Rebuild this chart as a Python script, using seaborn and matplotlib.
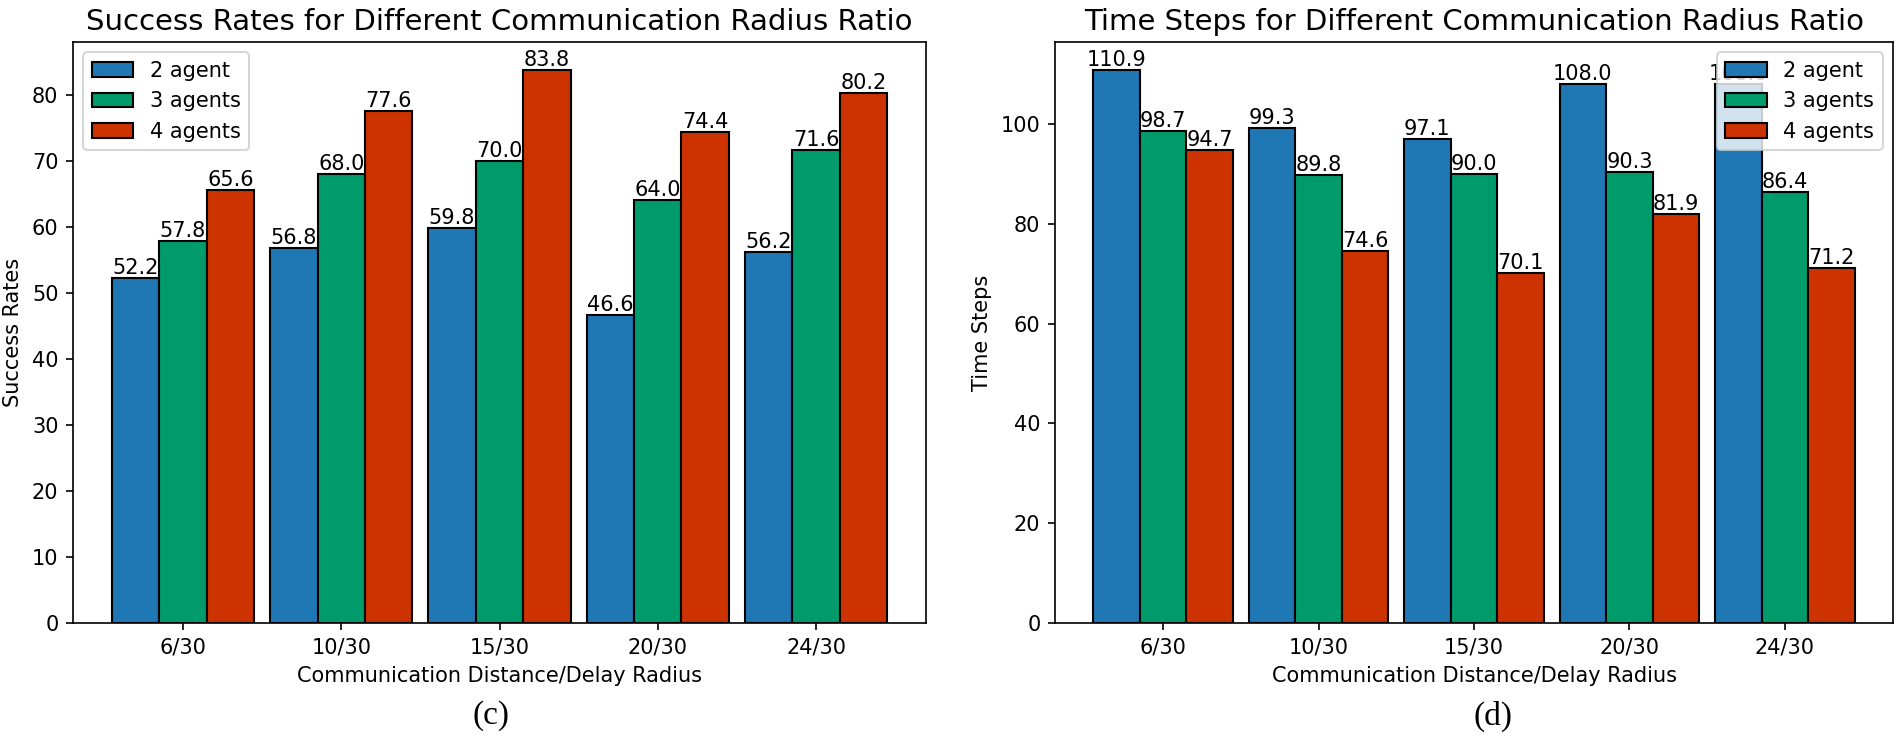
import matplotlib
matplotlib.use("Agg")
import matplotlib.pyplot as plt
import seaborn as sns
import pandas as pd

# data
ratios = ["6/30", "10/30", "15/30", "20/30", "24/30"]
agent_labels = ["2 agent", "3 agents", "4 agents"]

success_2 = [52.2, 56.8, 59.8, 46.6, 56.2]
success_3 = [57.8, 68.0, 70.0, 64.0, 71.6]
success_4 = [65.6, 77.6, 83.8, 74.4, 80.2]

steps_2 = [110.9, 99.3, 97.1, 108.0, 108.0]
steps_3 = [98.7, 89.8, 90.0, 90.3, 86.4]
steps_4 = [94.7, 74.6, 70.1, 81.9, 71.2]

colors = ["#1f77b4", "#009b6b", "#cc3300"]


def to_long(series_list):
    rows = []
    for label, vals in zip(agent_labels, series_list):
        for r, v in zip(ratios, vals):
            rows.append({"ratio": r, "agents": label, "value": v})
    return pd.DataFrame(rows)


def draw(ax, df, title, ylabel, legend_loc):
    sns.barplot(data=df, x="ratio", y="value", hue="agents", order=ratios,
                hue_order=agent_labels, palette=colors, saturation=1,
                width=0.9, edgecolor="black", linewidth=1, errorbar=None, ax=ax)
    for c in ax.containers:
        ax.bar_label(c, fmt="%.1f", fontsize=10)
    # matplotlib-style x margins (seaborn makes them tight)
    ax.set_xlim(-0.695, len(ratios) - 1 + 0.695)
    ax.set_title(title, fontsize=14)
    ax.set_xlabel("Communication Distance/Delay Radius", fontsize=10)
    ax.set_ylabel(ylabel, fontsize=10)
    sns.move_legend(ax, legend_loc, title=None, fontsize=10)


fig, (ax1, ax2) = plt.subplots(1, 2, figsize=(1900 / 150, 738 / 150), dpi=150)

draw(ax1, to_long([success_2, success_3, success_4]),
     "Success Rates for Different Communication Radius Ratio", "Success Rates", "upper left")
draw(ax2, to_long([steps_2, steps_3, steps_4]),
     "Time Steps for Different Communication Radius Ratio", "Time Steps", "upper right")

# place the axes like the reference
bottom = 1 - 623 / 738
height = (623 - 42) / 738
ax1.set_position([73 / 1900, bottom, (926 - 73) / 1900, height])
ax2.set_position([1055 / 1900, bottom, (1893 - 1055) / 1900, height])

# sub-captions
fig.text(491 / 1900, 1 - 716 / 738, "(c)", ha="center", va="center",
         fontsize=16, family="Liberation Serif")
fig.text(1493 / 1900, 1 - 716 / 738, "(d)", ha="center", va="center",
         fontsize=16, family="Liberation Serif")

fig.savefig("out.png", dpi=150)
